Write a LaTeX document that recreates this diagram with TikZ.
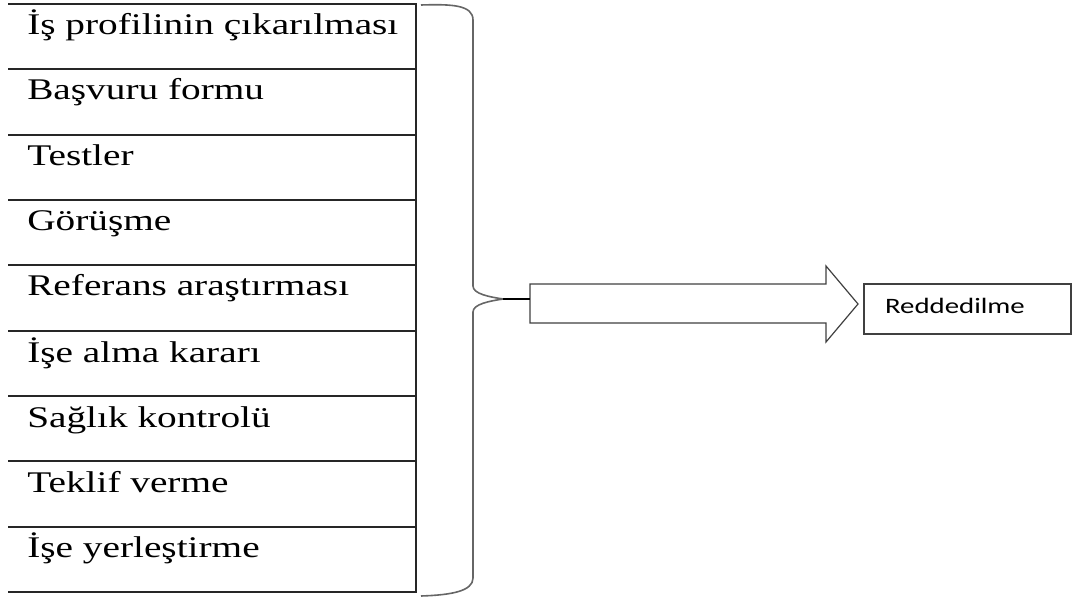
\documentclass[tikz,border=0pt]{standalone}
\usepackage{fontspec}
\setmainfont{Liberation Serif}[FakeStretch=1.31]
\newfontfamily\rejfont{Carlito}[FakeStretch=1.31]

\tikzset{
  stage/.style={anchor=base west, inner sep=0pt, font=\fontsize{22.5}{27}\selectfont},
  rowline/.style={line width=0.9pt, black!85},
  bracket/.style={line width=1.2pt, black!60},
  bigarrow/.style={line width=0.9pt, black!75, fill=white},
  rejectbox/.style={draw=black!75, line width=0.9pt, text=black, minimum height=37.5pt,
    text width=123.75pt, inner xsep=15.75pt, align=left, text height=10pt, text depth=4pt,
    font=\rejfont\fontsize{16.5}{19}\selectfont}
}

\begin{document}
\begin{tikzpicture}[x=0.75pt, y=-0.75pt]
    \useasboundingbox (0,0) rectangle (1075,599);

    \node[stage] (r1) at (27,35) {İş profilinin çıkarılması};
    \node[stage] (r2) at (27,100) {Başvuru formu};
    \node[stage] (r3) at (27,166) {Testler};
    \node[stage] (r4) at (27,231) {Görüşme};
    \node[stage] (r5) at (27,296) {Referans araştırması};
    \node[stage] (r6) at (27,362) {İşe alma kararı};
    \node[stage] (r7) at (27,427) {Sağlık kontrolü};
    \node[stage] (r8) at (27,492) {Teklif verme};
    \node[stage] (r9) at (27,557) {İşe yerleştirme};

    \draw[rowline] (8,4) -- (416,4) -- (416,592) -- (8,592);
    \draw[rowline] (8,69) -- (416,69);
    \draw[rowline] (8,135) -- (416,135);
    \draw[rowline] (8,200) -- (416,200);
    \draw[rowline] (8,265) -- (416,265);
    \draw[rowline] (8,331) -- (416,331);
    \draw[rowline] (8,396) -- (416,396);
    \draw[rowline] (8,461) -- (416,461);
    \draw[rowline] (8,527) -- (416,527);

    \coordinate (btip) at (503,299);
    \draw[bracket] (421,5) .. controls (452,4) and (473,5) .. (473,20) -- (473,286)
        .. controls (473,294) and (490,297) .. (btip)
        .. controls (490,301) and (473,304) .. (473,312) -- (473,578)
        .. controls (473,591) and (452,595) .. (421,596);

    \coordinate (aw) at (530,299);
    \draw[bigarrow] (530,284) -- (826,284) -- (826,266) -- (858,304) -- (826,342)
        -- (826,323) -- (530,323) -- cycle;
    \draw[line width=0.9pt] (btip) -- (aw);

    \node[rejectbox] (rej) at (967.5,309) {Reddedilme};
\end{tikzpicture}
\end{document}
